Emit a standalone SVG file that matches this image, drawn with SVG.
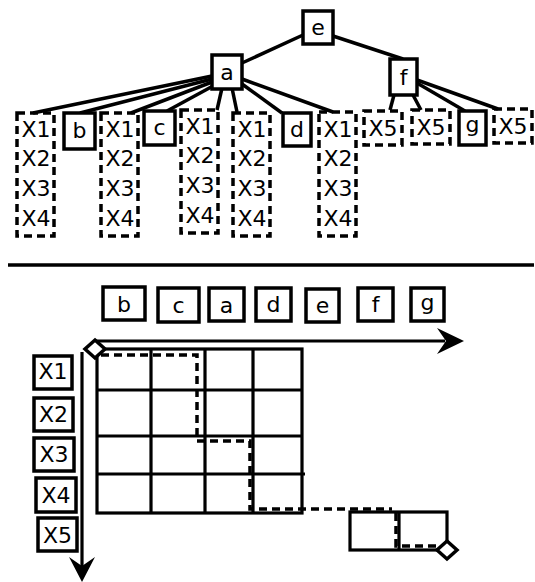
<svg xmlns="http://www.w3.org/2000/svg" width="535" height="582" viewBox="0 0 535 582">
<style>
.n{fill:#fff;stroke:#000;stroke-width:3.5}
.d{fill:none;stroke:#000;stroke-width:3.5;stroke-dasharray:8 5}
.t{font-family:"DejaVu Sans",sans-serif;font-size:22px;text-anchor:middle;fill:#000}
.l{stroke:#000;stroke-width:3.5;fill:none}
.g{stroke:#000;stroke-width:3.2;fill:none}
</style>
<rect width="535" height="582" fill="#fff"/>
<g id="connectors">
<line class="l" x1="242" y1="63" x2="303" y2="35"/>
<line class="l" x1="333" y1="36" x2="403" y2="59"/>
<line class="l" x1="212" y1="76" x2="33" y2="113"/>
<line class="l" x1="212" y1="79" x2="80" y2="113"/>
<line class="l" x1="212" y1="82" x2="131" y2="113"/>
<line class="l" x1="213" y1="86" x2="167" y2="111"/>
<line class="l" x1="222" y1="88" x2="217" y2="110"/>
<line class="l" x1="232" y1="88" x2="237" y2="112"/>
<line class="l" x1="242" y1="84" x2="282" y2="113"/>
<line class="l" x1="242" y1="79" x2="333" y2="112"/>
<line class="l" x1="394" y1="95" x2="390" y2="110"/>
<line class="l" x1="413" y1="95" x2="421" y2="110"/>
<line class="l" x1="417" y1="83" x2="465" y2="111"/>
<line class="l" x1="417" y1="80" x2="498" y2="109"/>
</g>
<g id="node-e"><rect class="n" x="303" y="11" width="30" height="33"/><text class="t" x="318" y="35">e</text></g>
<g id="node-a"><rect class="n" x="212" y="55" width="30" height="34"/><text class="t" x="227" y="80">a</text></g>
<g id="node-f"><rect class="n" x="390" y="59" width="27" height="36"/><text class="t" x="403.500" y="85">f</text></g>
<g id="leaf-x1"><rect class="d" x="17" y="113" width="37" height="123"/><text class="t" x="36" y="136.500">X1</text><text class="t" x="36" y="166">X2</text><text class="t" x="36" y="195.500">X3</text><text class="t" x="36" y="225.500">X4</text></g>
<g id="node-b"><rect class="n" x="64" y="113" width="31" height="36"/><text class="t" x="79.500" y="137.500">b</text></g>
<g id="leaf-x2"><rect class="d" x="101" y="113" width="37" height="123"/><text class="t" x="120" y="136.500">X1</text><text class="t" x="120" y="166">X2</text><text class="t" x="120" y="195.500">X3</text><text class="t" x="120" y="225.500">X4</text></g>
<g id="node-c"><rect class="n" x="144" y="111" width="31" height="34"/><text class="t" x="159.500" y="135">c</text></g>
<g id="leaf-x3"><rect class="d" x="181" y="110" width="37" height="123"/><text class="t" x="200" y="133.500">X1</text><text class="t" x="200" y="163">X2</text><text class="t" x="200" y="192.500">X3</text><text class="t" x="200" y="222.500">X4</text></g>
<g id="leaf-x4"><rect class="d" x="233" y="113" width="37" height="123"/><text class="t" x="252" y="136.500">X1</text><text class="t" x="252" y="166">X2</text><text class="t" x="252" y="195.500">X3</text><text class="t" x="252" y="225.500">X4</text></g>
<g id="node-d"><rect class="n" x="283" y="113" width="28" height="33"/><text class="t" x="297" y="137">d</text></g>
<g id="leaf-x5"><rect class="d" x="319" y="112" width="37" height="124"/><text class="t" x="338" y="136.500">X1</text><text class="t" x="338" y="166">X2</text><text class="t" x="338" y="195.500">X3</text><text class="t" x="338" y="225.500">X4</text></g>
<g id="leaf-x6"><rect class="d" x="364" y="111" width="38" height="34"/><text class="t" x="383" y="135.500">X5</text></g>
<g id="leaf-x7"><rect class="d" x="412" y="110" width="38" height="34"/><text class="t" x="431" y="134.500">X5</text></g>
<g id="node-g"><rect class="n" x="459" y="111" width="27" height="34"/><text class="t" x="472.500" y="132">g</text></g>
<g id="leaf-x8"><rect class="d" x="494" y="109" width="38" height="34"/><text class="t" x="513" y="133.500">X5</text></g>
<line id="separator" x1="8" y1="265" x2="534" y2="265" stroke="#000" stroke-width="3.500"/>
<g id="order-b"><rect class="n" x="103" y="287" width="42" height="33"/><text class="t" x="124" y="312">b</text></g>
<g id="order-c"><rect class="n" x="158" y="288" width="41" height="34"/><text class="t" x="178.500" y="313">c</text></g>
<g id="order-a"><rect class="n" x="209" y="288" width="35" height="33"/><text class="t" x="226.500" y="313">a</text></g>
<g id="order-d"><rect class="n" x="256" y="288" width="35" height="33"/><text class="t" x="273.500" y="312">d</text></g>
<g id="order-e"><rect class="n" x="306" y="289" width="33" height="33"/><text class="t" x="322.500" y="313">e</text></g>
<g id="order-f"><rect class="n" x="358" y="288" width="35" height="33"/><text class="t" x="375.500" y="312">f</text></g>
<g id="order-g"><rect class="n" x="411" y="288" width="33" height="33"/><text class="t" x="427.500" y="310">g</text></g>
<g id="row-x1"><rect class="n" x="34" y="356" width="38" height="33"/><text class="t" x="53" y="378.500">X1</text></g>
<g id="row-x2"><rect class="n" x="34" y="398" width="39" height="33"/><text class="t" x="53.500" y="421.500">X2</text></g>
<g id="row-x3"><rect class="n" x="34" y="438" width="40" height="33"/><text class="t" x="54" y="461.500">X3</text></g>
<g id="row-x4"><rect class="n" x="36" y="478" width="40" height="34"/><text class="t" x="56" y="502.500">X4</text></g>
<g id="row-x5"><rect class="n" x="38" y="518" width="39" height="33"/><text class="t" x="57.500" y="542.500">X5</text></g>
<g id="axes">
<line class="g" x1="95" y1="341" x2="445" y2="341"/>
<polygon points="464,341 437,328 446,341 437,354" fill="#000"/>
<line class="g" x1="82" y1="352" x2="82" y2="570"/>
<polygon points="82,582 69,557 82,566 95,557" fill="#000"/>
</g>
<g id="grid">
<rect class="g" x="97" y="349" width="205" height="164"/>
<line class="g" x1="151" y1="349" x2="151" y2="513"/>
<line class="g" x1="205" y1="349" x2="205" y2="513"/>
<line class="g" x1="253" y1="349" x2="253" y2="513"/>
<line class="g" x1="97" y1="390" x2="302" y2="390"/>
<line class="g" x1="97" y1="436" x2="302" y2="436"/>
<line class="g" x1="97" y1="474" x2="305" y2="474"/>
<rect class="g" x="350" y="512" width="97" height="38"/>
<line class="g" x1="399" y1="512" x2="399" y2="550"/>
<path class="d" d="M101,355 H197 V441 H250 V509 H392"/>
<path class="d" d="M396,513 V546 H436"/>
<polygon class="n" points="95,340 105,349 95,358 85,349"/>
<polygon class="n" points="447,541 457,550 447,559 437,550"/>
</g>
</svg>
